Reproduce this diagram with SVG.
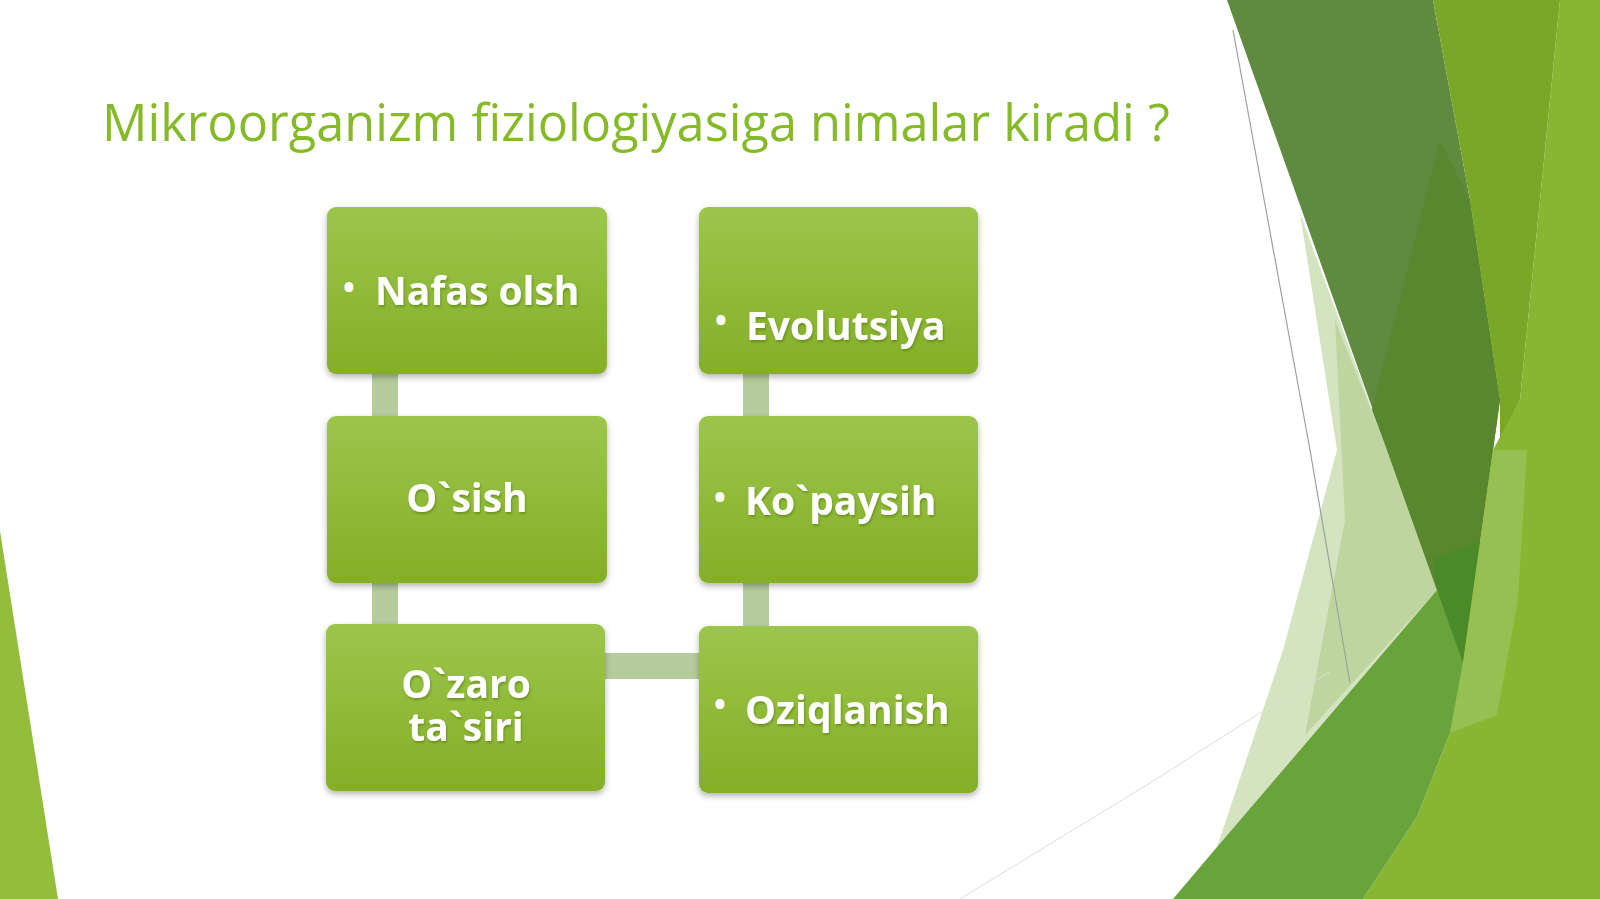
<svg xmlns="http://www.w3.org/2000/svg" width="1600" height="899" viewBox="0 0 1600 899">
  <style>
    .title { font-family: "Open Sans", "Noto Sans", sans-serif; font-size: 50.5px; fill: #86ba28; }
    .lbl { font-family: "Open Sans", "Noto Sans", sans-serif; font-weight: bold; font-size: 39px; fill: #ffffff; filter: url(#tshadow); }
    .bul { font-family: "Open Sans", "Noto Sans", sans-serif; font-size: 42px; fill: #ffffff; }
    .box { fill: url(#boxg); filter: url(#bshadow); }
    .conn { fill: #b6cc9d; }
  </style>
  <defs>
    <linearGradient id="boxg" x1="0" y1="0" x2="0" y2="1">
      <stop offset="0" stop-color="#9bc64b"/>
      <stop offset="1" stop-color="#84af27"/>
    </linearGradient>
    <filter id="bshadow" x="-10%" y="-10%" width="120%" height="125%">
      <feDropShadow dx="0" dy="3" stdDeviation="3" flood-color="#000000" flood-opacity="0.3"/>
    </filter>
    <filter id="tshadow" x="-10%" y="-20%" width="120%" height="150%">
      <feDropShadow dx="1" dy="2" stdDeviation="1" flood-color="#3d5a10" flood-opacity="0.4"/>
    </filter>
  </defs>

  <rect width="1600" height="899" fill="#ffffff"/>

  <g id="background">
    <polygon points="0,531 0,899 58,899" fill="#93bd3a"/>
    <polygon points="1300,213 1337,450 1283,650 1217,847 1437,590 1387,450" fill="#d4e4c1"/>
    <polygon points="1335,320 1387,450 1437,590 1305,735 1345,520" fill="#bfd59f"/>
    <polygon points="1227,0 1433,0 1470,200 1500,400 1493,450 1463,663 1437,590" fill="#5f8a3f"/>
    <polygon points="1440,140 1470,200 1500,400 1493,450 1463,663 1437,590 1387,450 1372,410" fill="#59872f"/>
    <polygon points="1433,560 1483,540 1463,663 1445,640" fill="#4a8a28"/>
    <polygon points="1433,0 1560,0 1520,400 1500,440 1500,400 1470,200" fill="#79a828"/>
    <polygon points="1560,0 1600,0 1600,899 1363,899 1417,817 1450,733 1463,663 1493,450 1520,400" fill="#89b632"/>
    <polygon points="1493,450 1527,450 1518,600 1497,715 1450,733 1463,663" fill="#96c052"/>
    <polygon points="1437,590 1463,663 1450,733 1417,817 1363,899 1173,899 1217,847" fill="#69a33b"/>
    <polyline points="1233,30 1310,450 1350,683" fill="none" stroke="#9aa39a" stroke-width="1.2"/>
    <polyline points="960,899 1150,783 1260,713 1330,672" fill="none" stroke="#dadfd6" stroke-width="1"/>
  </g>

  <text class="title" x="102" y="141">Mikroorganizm fiziologiyasiga nimalar kiradi ?</text>

  <g id="connectors">
    <rect class="conn" x="372" y="370" width="26" height="50"/>
    <rect class="conn" x="372" y="579" width="26" height="49"/>
    <rect class="conn" x="743" y="370" width="26" height="50"/>
    <rect class="conn" x="743" y="579" width="26" height="51"/>
    <rect class="conn" x="600" y="653" width="104" height="26"/>
  </g>

  <g id="node-nafas">
    <rect class="box" x="327" y="207" width="280" height="167" rx="9"/>
    <text class="bul" x="341" y="302">•</text>
    <text class="lbl" x="375" y="305">Nafas olsh</text>
  </g>
  <g id="node-evolutsiya">
    <rect class="box" x="699" y="207" width="279" height="167" rx="9"/>
    <text class="bul" x="713" y="335">•</text>
    <text class="lbl" x="746" y="340">Evolutsiya</text>
  </g>
  <g id="node-osish">
    <rect class="box" x="327" y="416" width="280" height="167" rx="9"/>
    <text class="lbl" x="467" y="512" text-anchor="middle">O`sish</text>
  </g>
  <g id="node-kopaysih">
    <rect class="box" x="699" y="416" width="279" height="167" rx="9"/>
    <text class="bul" x="712" y="512">•</text>
    <text class="lbl" x="745" y="515">Ko`paysih</text>
  </g>
  <g id="node-ozaro">
    <rect class="box" x="326" y="624" width="279" height="167" rx="9"/>
    <text class="lbl" text-anchor="middle"><tspan x="466" y="698">O`zaro</tspan><tspan x="466" y="741">ta`siri</tspan></text>
  </g>
  <g id="node-oziqlanish">
    <rect class="box" x="699" y="626" width="279" height="167" rx="9"/>
    <text class="bul" x="712" y="719">•</text>
    <text class="lbl" x="745" y="724">Oziqlanish</text>
  </g>
</svg>
